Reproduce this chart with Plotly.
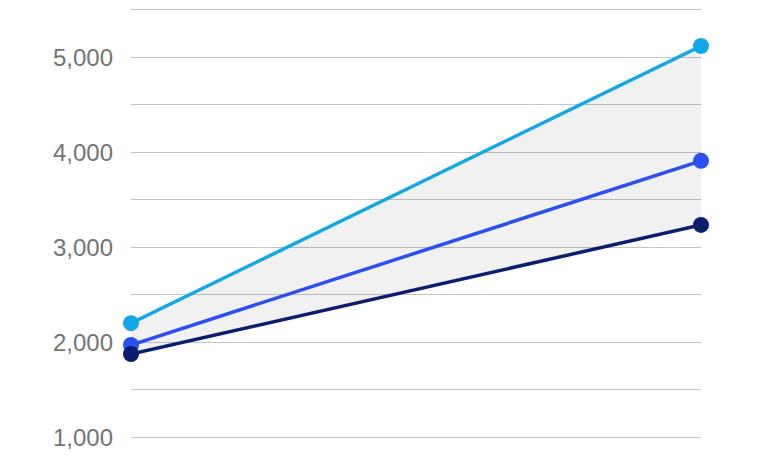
import plotly.graph_objects as go

# data
periods = ["start", "end"]
high = [2200, 5120]
mid = [1970, 3910]
low = [1875, 3235]

grid_vals = [1000, 1500, 2000, 2500, 3000, 3500, 4000, 4500, 5000, 5500]
grid_text = ["1,000", "", "2,000", "", "3,000", "", "4,000", "", "5,000", ""]

fig = go.Figure()

# shaded band between low and high
fig.add_trace(go.Scatter(x=periods, y=low, mode="lines", line=dict(width=0),
                         hoverinfo="skip", showlegend=False))
fig.add_trace(go.Scatter(x=periods, y=high, mode="lines", line=dict(width=0),
                         fill="tonexty", fillcolor="rgba(0,0,0,0.055)",
                         hoverinfo="skip", showlegend=False))

# lines
for vals, col in [(high, "#12a8e8"), (mid, "#2a4ff2"), (low, "#0b1d6e")]:
    fig.add_trace(go.Scatter(
        x=periods, y=vals, mode="lines+markers",
        line=dict(color=col, width=3.5),
        marker=dict(color=col, size=16),
        cliponaxis=False, showlegend=False,
    ))

fig.update_xaxes(range=[0, 1], showticklabels=False, showgrid=False,
                 zeroline=False, showline=False, automargin=False)
# range padded a bit so the end gridlines get drawn
fig.update_yaxes(range=[980, 5520], tickvals=grid_vals, ticktext=grid_text,
                 gridcolor="#c4c4c4", gridwidth=1, zeroline=False,
                 showline=False, ticks="", ticklabelstandoff=17,
                 automargin=False,
                 tickfont=dict(family="Liberation Sans", size=24, color="#747474"))

# page body adds an 8px offset, margins compensate for it
fig.update_layout(
    width=767, height=457,
    margin=dict(l=123, r=74, t=0, b=26),
    plot_bgcolor="white", paper_bgcolor="white",
)

fig.write_html("out.html")
